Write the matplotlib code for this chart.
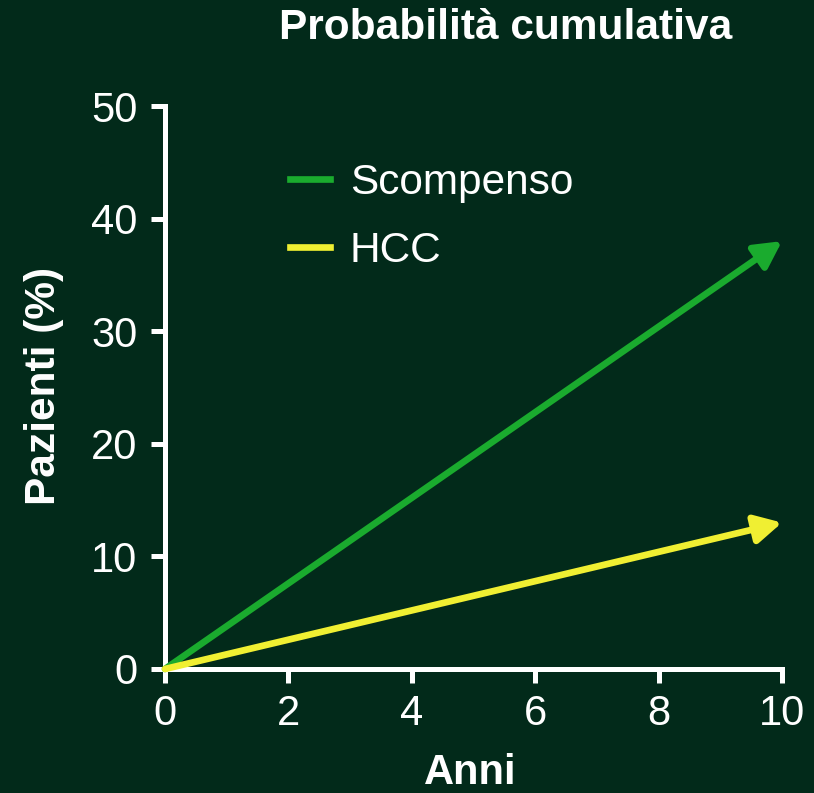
import matplotlib.pyplot as plt

plt.rcParams['font.family'] = ['Liberation Sans', 'DejaVu Sans']

BG = '#022a1a'
GREEN = '#1aab2e'
YELLOW = '#f0ef32'

# cumulative probability after 10 years (%)
series = ['Scompenso', 'HCC']
start_years = [0, 0]
end_years = [10, 10]
start_pct = [0, 0]
end_pct = [38, 13]
colors = [GREEN, YELLOW]

x_ticks = [0, 2, 4, 6, 8, 10]
y_ticks = [0, 10, 20, 30, 40, 50]

fig = plt.figure(figsize=(8.14, 7.93), dpi=100, facecolor=BG)
ax = fig.add_axes([0.2027, 0.1564, 0.7580, 0.7099])
ax.set_facecolor(BG)

for name, x0, x1, y0, y1, c in zip(series, start_years, end_years, start_pct, end_pct, colors):
    ax.annotate('', xy=(x1, y1), xytext=(x0, y0),
                arrowprops=dict(arrowstyle='-|>,head_length=1.6,head_width=0.85',
                                color=c, lw=4.8, shrinkA=0, shrinkB=0),
                annotation_clip=False)
    ax.plot([], [], color=c, lw=4.8, label=name)

ax.set_xlim(0, 10)
ax.set_ylim(0, 50)
ax.set_xticks(x_ticks)
ax.set_yticks(y_ticks)

for side in ['top', 'right']:
    ax.spines[side].set_visible(False)
for side in ['left', 'bottom']:
    ax.spines[side].set_color('white')
    ax.spines[side].set_linewidth(3.6)
ax.tick_params(colors='white', labelsize=30, width=3.6, length=10)
ax.tick_params(axis='y', pad=10)
ax.tick_params(axis='x', pad=8)

ax.set_xlabel('Anni', color='white', fontsize=30, fontweight='bold')
ax.set_ylabel('Pazienti (%)', color='white', fontsize=30.5, fontweight='bold')
ax.xaxis.set_label_coords(0.494, -0.150)
ax.yaxis.set_label_coords(-0.164, 0.503)
fig.text(506 / 814, 1 - 28 / 793, 'Probabilità cumulativa', color='white',
         fontsize=30.5, fontweight='bold', ha='center', va='center')

leg = ax.legend(loc='upper left', bbox_to_anchor=(0.14, 0.966), frameon=False,
                fontsize=30.5, labelcolor='white', handlelength=0.95,
                handletextpad=0.47, labelspacing=0.66)

fig.savefig('out.png', dpi=100, facecolor=BG)
